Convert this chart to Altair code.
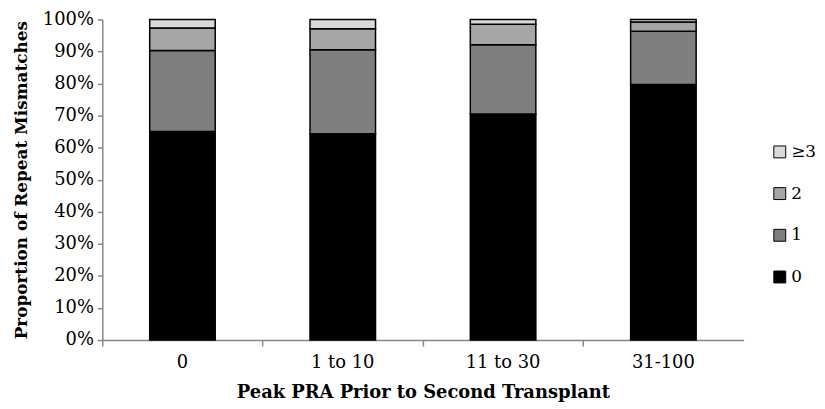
import altair as alt
import pandas as pd

categories = ["0", "1 to 10", "11 to 30", "31-100"]
series = ["0", "1", "2", "≥3"]
vals_0 = [65.0, 64.3, 70.5, 79.7]
vals_1 = [25.3, 26.2, 21.6, 16.6]
vals_2 = [7.0, 6.6, 6.4, 2.9]
vals_3 = [2.7, 2.9, 1.5, 0.8]
colors = ["#000000", "#7f7f7f", "#a6a6a6", "#d9d9d9"]

rows = []
for i, c in enumerate(categories):
    for j, (s, v) in enumerate(zip(series, [vals_0, vals_1, vals_2, vals_3])):
        rows.append({"cat": c, "series": s, "value": v[i] / 100.0, "ord": j})
df = pd.DataFrame(rows)

font = "DejaVu Serif"

chart = alt.Chart(df).mark_bar(size=66, stroke="black", strokeWidth=1.5).encode(
    x=alt.X("cat:N", sort=categories, scale=alt.Scale(paddingInner=0.0, paddingOuter=0.0),
            axis=alt.Axis(title="Peak PRA Prior to Second Transplant", labelAngle=0,
                          bandPosition=0, tickSize=6, labelPadding=8, titlePadding=12)),
    y=alt.Y("value:Q", stack="zero", scale=alt.Scale(domain=[0, 1], nice=False),
            axis=alt.Axis(title="Proportion of Repeat Mismatches", format=".0%",
                          values=[i / 10 for i in range(11)], tickSize=5, labelPadding=4,
                          titlePadding=12, titleFontSize=17, grid=False)),
    color=alt.Color("series:N", scale=alt.Scale(domain=["≥3", "2", "1", "0"],
                                                range=colors[::-1]),
                    legend=alt.Legend(title=None, orient="none", legendX=674, legendY=125,
                                      symbolType="square", symbolSize=144,
                                      symbolStrokeColor="black", symbolStrokeWidth=1,
                                      labelFontSize=17, labelFont=font, rowPadding=24,
                                      labelOffset=3, padding=0)),
    order=alt.Order("ord:Q", sort="ascending"),
).properties(
    width=646, height=323,
    autosize=alt.AutoSizeParams(type="none"),
    padding={"left": 95, "top": 10, "right": 74, "bottom": 66},
).configure_view(stroke=None).configure_axis(
    domainColor="#888888", tickColor="#888888", labelFont=font, titleFont=font,
    labelFontSize=18, titleFontSize=18, titleFontWeight="bold", labelColor="black",
    titleColor="black", domainWidth=1.5, tickWidth=1.5
)

chart.save("out.html", embed_options={"renderer": "svg", "actions": False})
